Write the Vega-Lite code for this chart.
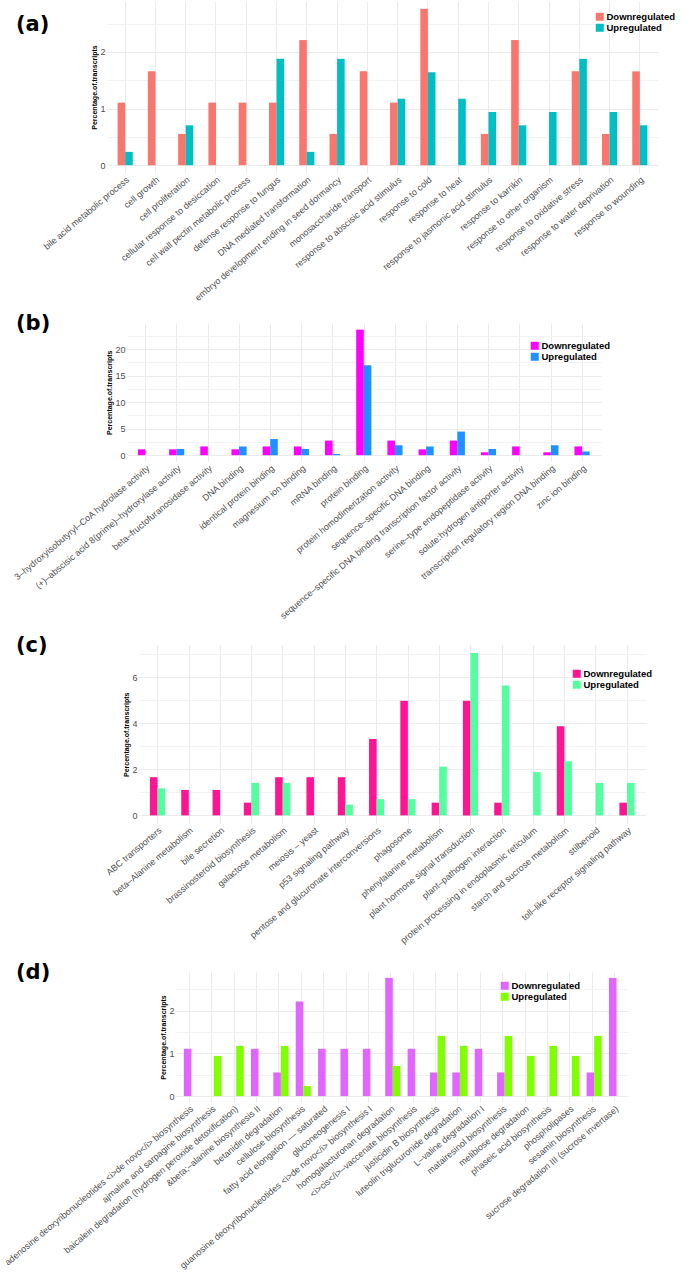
{
  "$schema": "https://vega.github.io/schema/vega-lite/v6.json",
  "padding": {"left": 0, "top": 1, "right": 0, "bottom": 0},
  "background": "white",
  "config": {
    "view": {"stroke": null},
    "axis": {
      "domain": false, "ticks": false,
      "labelFont": "Liberation Sans", "labelColor": "#4D4D4D", "labelFontSize": 9,
      "gridColor": "#EBEBEB", "gridWidth": 1
    },
    "axisX": {
      "labelAngle": -40, "labelAlign": "right", "labelBaseline": "top",
      "labelPadding": 2, "labelOverlap": false, "labelLimit": 500,
      "bandPosition": 0.5, "title": null, "grid": true
    },
    "axisY": {
      "labelPadding": 2, "titleFont": "Liberation Sans", "titleFontSize": 7,
      "titleFontWeight": "bold", "titleColor": "black", "titlePadding": 2, "format": "~g"
    },
    "legend": {
      "symbolType": "square", "symbolSize": 64, "symbolStrokeWidth": 0,
      "labelFont": "Liberation Sans", "labelFontSize": 9.5, "labelFontWeight": "bold",
      "labelColor": "black", "rowPadding": 0, "labelOffset": 2, "padding": 0
    },
    "title": {
      "font": "DejaVu Sans", "fontSize": 21, "fontWeight": "bold", "color": "black",
      "anchor": "start", "frame": "group", "offset": 0
    }
  },
  "datasets": {
    "a": [
      {"term": "bile acid metabolic process", "group": "Downregulated", "pct": 1.105},
      {"term": "bile acid metabolic process", "group": "Upregulated", "pct": 0.235},
      {"term": "cell growth", "group": "Downregulated", "pct": 1.657},
      {"term": "cell proliferation", "group": "Downregulated", "pct": 0.552},
      {"term": "cell proliferation", "group": "Upregulated", "pct": 0.704},
      {"term": "cellular response to desiccation", "group": "Downregulated", "pct": 1.105},
      {"term": "cell wall pectin metabolic process", "group": "Downregulated", "pct": 1.105},
      {"term": "defense response to fungus", "group": "Downregulated", "pct": 1.105},
      {"term": "defense response to fungus", "group": "Upregulated", "pct": 1.878},
      {"term": "DNA mediated transformation", "group": "Downregulated", "pct": 2.21},
      {"term": "DNA mediated transformation", "group": "Upregulated", "pct": 0.235},
      {"term": "embryo development ending in seed dormancy", "group": "Downregulated", "pct": 0.552},
      {"term": "embryo development ending in seed dormancy", "group": "Upregulated", "pct": 1.878},
      {"term": "monosaccharide transport", "group": "Downregulated", "pct": 1.657},
      {"term": "response to abscisic acid stimulus", "group": "Downregulated", "pct": 1.105},
      {"term": "response to abscisic acid stimulus", "group": "Upregulated", "pct": 1.174},
      {"term": "response to cold", "group": "Downregulated", "pct": 2.762},
      {"term": "response to cold", "group": "Upregulated", "pct": 1.643},
      {"term": "response to heat", "group": "Upregulated", "pct": 1.174},
      {"term": "response to jasmonic acid stimulus", "group": "Downregulated", "pct": 0.552},
      {"term": "response to jasmonic acid stimulus", "group": "Upregulated", "pct": 0.939},
      {"term": "response to karrikin", "group": "Downregulated", "pct": 2.21},
      {"term": "response to karrikin", "group": "Upregulated", "pct": 0.704},
      {"term": "response to other organism", "group": "Upregulated", "pct": 0.939},
      {"term": "response to oxidative stress", "group": "Downregulated", "pct": 1.657},
      {"term": "response to oxidative stress", "group": "Upregulated", "pct": 1.878},
      {"term": "response to water deprivation", "group": "Downregulated", "pct": 0.552},
      {"term": "response to water deprivation", "group": "Upregulated", "pct": 0.939},
      {"term": "response to wounding", "group": "Downregulated", "pct": 1.657},
      {"term": "response to wounding", "group": "Upregulated", "pct": 0.704}
    ],
    "b": [
      {"term": "3–hydroxyisobutyryl–CoA hydrolase activity", "group": "Downregulated", "pct": 1.105},
      {"term": "(+)–abscisic acid 8(prime)–hydroxylase activity", "group": "Downregulated", "pct": 1.105},
      {"term": "(+)–abscisic acid 8(prime)–hydroxylase activity", "group": "Upregulated", "pct": 1.174},
      {"term": "beta–fructofuranosidase activity", "group": "Downregulated", "pct": 1.657},
      {"term": "DNA binding", "group": "Downregulated", "pct": 1.105},
      {"term": "DNA binding", "group": "Upregulated", "pct": 1.643},
      {"term": "identical protein binding", "group": "Downregulated", "pct": 1.657},
      {"term": "identical protein binding", "group": "Upregulated", "pct": 3.052},
      {"term": "magnesium ion binding", "group": "Downregulated", "pct": 1.657},
      {"term": "magnesium ion binding", "group": "Upregulated", "pct": 1.174},
      {"term": "mRNA binding", "group": "Downregulated", "pct": 2.762},
      {"term": "mRNA binding", "group": "Upregulated", "pct": 0.235},
      {"term": "protein binding", "group": "Downregulated", "pct": 23.7},
      {"term": "protein binding", "group": "Upregulated", "pct": 17.0},
      {"term": "protein homodimerization activity", "group": "Downregulated", "pct": 2.762},
      {"term": "protein homodimerization activity", "group": "Upregulated", "pct": 1.878},
      {"term": "sequence–specific DNA binding", "group": "Downregulated", "pct": 1.105},
      {"term": "sequence–specific DNA binding", "group": "Upregulated", "pct": 1.643},
      {"term": "sequence–specific DNA binding transcription factor activity", "group": "Downregulated", "pct": 2.762},
      {"term": "sequence–specific DNA binding transcription factor activity", "group": "Upregulated", "pct": 4.46},
      {"term": "serine–type endopeptidase activity", "group": "Downregulated", "pct": 0.552},
      {"term": "serine–type endopeptidase activity", "group": "Upregulated", "pct": 1.174},
      {"term": "solute:hydrogen antiporter activity", "group": "Downregulated", "pct": 1.657},
      {"term": "transcription regulatory region DNA binding", "group": "Downregulated", "pct": 0.552},
      {"term": "transcription regulatory region DNA binding", "group": "Upregulated", "pct": 1.878},
      {"term": "zinc ion binding", "group": "Downregulated", "pct": 1.657},
      {"term": "zinc ion binding", "group": "Upregulated", "pct": 0.704}
    ],
    "c": [
      {"term": "ABC transporters", "group": "Downregulated", "pct": 1.657},
      {"term": "ABC transporters", "group": "Upregulated", "pct": 1.174},
      {"term": "beta–Alanine metabolism", "group": "Downregulated", "pct": 1.105},
      {"term": "bile secretion", "group": "Downregulated", "pct": 1.105},
      {"term": "brassinosteroid biosynthesis", "group": "Downregulated", "pct": 0.552},
      {"term": "brassinosteroid biosynthesis", "group": "Upregulated", "pct": 1.408},
      {"term": "galactose metabolism", "group": "Downregulated", "pct": 1.657},
      {"term": "galactose metabolism", "group": "Upregulated", "pct": 1.408},
      {"term": "meiosis – yeast", "group": "Downregulated", "pct": 1.657},
      {"term": "p53 signaling pathway", "group": "Downregulated", "pct": 1.657},
      {"term": "p53 signaling pathway", "group": "Upregulated", "pct": 0.469},
      {"term": "pentose and glucuronate interconversions", "group": "Downregulated", "pct": 3.315},
      {"term": "pentose and glucuronate interconversions", "group": "Upregulated", "pct": 0.704},
      {"term": "phagosome", "group": "Downregulated", "pct": 4.972},
      {"term": "phagosome", "group": "Upregulated", "pct": 0.704},
      {"term": "phenylalanine metabolism", "group": "Downregulated", "pct": 0.552},
      {"term": "phenylalanine metabolism", "group": "Upregulated", "pct": 2.113},
      {"term": "plant hormone signal transduction", "group": "Downregulated", "pct": 4.972},
      {"term": "plant hormone signal transduction", "group": "Upregulated", "pct": 7.042},
      {"term": "plant–pathogen interaction", "group": "Downregulated", "pct": 0.552},
      {"term": "plant–pathogen interaction", "group": "Upregulated", "pct": 5.634},
      {"term": "protein processing in endoplasmic reticulum", "group": "Upregulated", "pct": 1.878},
      {"term": "starch and sucrose metabolism", "group": "Downregulated", "pct": 3.867},
      {"term": "starch and sucrose metabolism", "group": "Upregulated", "pct": 2.347},
      {"term": "stilbenoid", "group": "Upregulated", "pct": 1.408},
      {"term": "toll–like receptor signaling pathway", "group": "Downregulated", "pct": 0.552},
      {"term": "toll–like receptor signaling pathway", "group": "Upregulated", "pct": 1.408}
    ],
    "d": [
      {"term": "adenosine deoxyribonucleotides <i>de novo</i> biosynthesis", "group": "Downregulated", "pct": 1.105},
      {"term": "ajmaline and sarpagine biosynthesis", "group": "Upregulated", "pct": 0.939},
      {"term": "baicalein degradation (hydrogen peroxide detoxification)", "group": "Upregulated", "pct": 1.174},
      {"term": "&beta;–alanine biosynthesis II", "group": "Downregulated", "pct": 1.105},
      {"term": "betanidin degradation", "group": "Downregulated", "pct": 0.552},
      {"term": "betanidin degradation", "group": "Upregulated", "pct": 1.174},
      {"term": "cellulose biosynthesis", "group": "Downregulated", "pct": 2.21},
      {"term": "cellulose biosynthesis", "group": "Upregulated", "pct": 0.235},
      {"term": "fatty acid elongation –– saturated", "group": "Downregulated", "pct": 1.105},
      {"term": "gluconeogenesis I", "group": "Downregulated", "pct": 1.105},
      {"term": "guanosine deoxyribonucleotides <i>de novo</i> biosynthesis I", "group": "Downregulated", "pct": 1.105},
      {"term": "homogalacturonan degradation", "group": "Downregulated", "pct": 2.762},
      {"term": "homogalacturonan degradation", "group": "Upregulated", "pct": 0.704},
      {"term": "<i>cis</i>–vaccenate biosynthesis", "group": "Downregulated", "pct": 1.105},
      {"term": "justicidin B biosynthesis", "group": "Downregulated", "pct": 0.552},
      {"term": "justicidin B biosynthesis", "group": "Upregulated", "pct": 1.408},
      {"term": "luteolin triglucuronide degradation", "group": "Downregulated", "pct": 0.552},
      {"term": "luteolin triglucuronide degradation", "group": "Upregulated", "pct": 1.174},
      {"term": "L–valine degradation I", "group": "Downregulated", "pct": 1.105},
      {"term": "matairesinol biosynthesis", "group": "Downregulated", "pct": 0.552},
      {"term": "matairesinol biosynthesis", "group": "Upregulated", "pct": 1.408},
      {"term": "melibiose degradation", "group": "Upregulated", "pct": 0.939},
      {"term": "phaseic acid biosynthesis", "group": "Upregulated", "pct": 1.174},
      {"term": "phospholipases", "group": "Upregulated", "pct": 0.939},
      {"term": "sesamin biosynthesis", "group": "Downregulated", "pct": 0.552},
      {"term": "sesamin biosynthesis", "group": "Upregulated", "pct": 1.408},
      {"term": "sucrose degradation III (sucrose invertase)", "group": "Downregulated", "pct": 2.762}
    ]
  },
  "spacing": 14,
  "resolve": {"scale": {"x": "independent", "y": "independent", "color": "independent"}, "legend": {"color": "independent"}},
  "vconcat": [
    {
      "spacing": 10,
      "resolve": {"scale": {"x": "independent", "y": "independent", "color": "independent"}, "legend": {"color": "independent"}},
      "vconcat": [
        {
          "spacing": 0, "bounds": "flush",
          "resolve": {"scale": {"x": "independent", "y": "independent", "color": "independent"}, "legend": {"color": "independent"}},
          "hconcat": [
            {"width": 107, "height": 20, "data": {"values": []}, "mark": "point", "encoding": {},
             "title": {"text": "(a)", "dx": 16, "dy": 38}},
            {
              "width": 551, "height": 172,
              "data": {"name": "a"},
              "mark": {"type": "bar"},
              "encoding": {
                "x": {"field": "term", "type": "nominal", "sort": null, "scale": {"paddingInner": 0.5, "paddingOuter": 0.35}},
                "xOffset": {"field": "group", "type": "nominal", "sort": ["Downregulated", "Upregulated"]},
                "y": {"field": "pct", "type": "quantitative", "scale": {"domain": [-0.138, 2.9], "nice": false},
                      "axis": {"title": "Percentage.of.transcripts", "values": [0, 0.5, 1, 1.5, 2, 2.5],
                               "labelExpr": "datum.value % 1 === 0 ? datum.label : ''",
                               "gridColor": {"condition": {"test": "datum.value % 1 !== 0", "value": "#F3F3F3"}, "value": "#EBEBEB"}}},
                "color": {"field": "group", "type": "nominal",
                          "scale": {"domain": ["Downregulated", "Upregulated"], "range": ["#F8766D", "#00BFC4"]},
                          "legend": {"title": null, "orient": "none", "legendX": 488, "legendY": 11}}
              }
            }
          ]
        },
        {
          "spacing": 0, "bounds": "flush",
          "resolve": {"scale": {"x": "independent", "y": "independent", "color": "independent"}, "legend": {"color": "independent"}},
          "hconcat": [
            {"width": 127, "height": 20, "data": {"values": []}, "mark": "point", "encoding": {},
             "title": {"text": "(b)", "dx": 16, "dy": 15}},
            {
              "width": 474, "height": 138.5,
              "data": {"name": "b"},
              "mark": {"type": "bar"},
              "encoding": {
                "x": {"field": "term", "type": "nominal", "sort": null, "scale": {"paddingInner": 0.5, "paddingOuter": 0.35}},
                "xOffset": {"field": "group", "type": "nominal", "sort": ["Downregulated", "Upregulated"]},
                "y": {"field": "pct", "type": "quantitative", "scale": {"domain": [-1.188, 24.95], "nice": false},
                      "axis": {"title": "Percentage.of.transcripts", "values": [0, 2.5, 5, 7.5, 10, 12.5, 15, 17.5, 20, 22.5],
                               "labelExpr": "datum.value % 5 === 0 ? datum.label : ''",
                               "gridColor": {"condition": {"test": "datum.value % 5 !== 0", "value": "#F3F3F3"}, "value": "#EBEBEB"}}},
                "color": {"field": "group", "type": "nominal",
                          "scale": {"domain": ["Downregulated", "Upregulated"], "range": ["#FF00FF", "#1E90FF"]},
                          "legend": {"title": null, "orient": "none", "legendX": 403, "legendY": 18}}
              }
            }
          ]
        }
      ]
    },
    {
      "spacing": 17,
      "resolve": {"scale": {"x": "independent", "y": "independent", "color": "independent"}, "legend": {"color": "independent"}},
      "vconcat": [
        {
          "spacing": 0, "bounds": "flush",
          "resolve": {"scale": {"x": "independent", "y": "independent", "color": "independent"}, "legend": {"color": "independent"}},
          "hconcat": [
            {"width": 139, "height": 20, "data": {"values": []}, "mark": "point", "encoding": {},
             "title": {"text": "(c)", "dx": 16, "dy": 15}},
            {
              "width": 507, "height": 178.5,
              "data": {"name": "c"},
              "mark": {"type": "bar"},
              "encoding": {
                "x": {"field": "term", "type": "nominal", "sort": null, "scale": {"paddingInner": 0.5, "paddingOuter": 0.35}},
                "xOffset": {"field": "group", "type": "nominal", "sort": ["Downregulated", "Upregulated"]},
                "y": {"field": "pct", "type": "quantitative", "scale": {"domain": [-0.352, 7.394], "nice": false},
                      "axis": {"title": "Percentage.of.transcripts", "values": [0, 1, 2, 3, 4, 5, 6, 7],
                               "labelExpr": "datum.value % 2 === 0 ? datum.label : ''",
                               "gridColor": {"condition": {"test": "datum.value % 2 !== 0", "value": "#F3F3F3"}, "value": "#EBEBEB"}}},
                "color": {"field": "group", "type": "nominal",
                          "scale": {"domain": ["Downregulated", "Upregulated"], "range": ["#FF1493", "#54FF9F"]},
                          "legend": {"title": null, "orient": "none", "legendX": 433, "legendY": 24}}
              }
            }
          ]
        },
        {
          "spacing": 0, "bounds": "flush",
          "resolve": {"scale": {"x": "independent", "y": "independent", "color": "independent"}, "legend": {"color": "independent"}},
          "hconcat": [
            {"width": 176, "height": 20, "data": {"values": []}, "mark": "point", "encoding": {},
             "title": {"text": "(d)", "dx": 16, "dy": 15}},
            {
              "width": 452, "height": 130,
              "data": {"name": "d"},
              "mark": {"type": "bar"},
              "encoding": {
                "x": {"field": "term", "type": "nominal", "sort": null, "scale": {"paddingInner": 0.5, "paddingOuter": 0.35}},
                "xOffset": {"field": "group", "type": "nominal", "sort": ["Downregulated", "Upregulated"]},
                "y": {"field": "pct", "type": "quantitative", "scale": {"domain": [-0.138, 2.9], "nice": false},
                      "axis": {"title": "Percentage.of.transcripts", "values": [0, 0.5, 1, 1.5, 2, 2.5],
                               "labelExpr": "datum.value % 1 === 0 ? datum.label : ''",
                               "gridColor": {"condition": {"test": "datum.value % 1 !== 0", "value": "#F3F3F3"}, "value": "#EBEBEB"}}},
                "color": {"field": "group", "type": "nominal",
                          "scale": {"domain": ["Downregulated", "Upregulated"], "range": ["#E066FF", "#7FFF00"]},
                          "legend": {"title": null, "orient": "none", "legendX": 324, "legendY": 9}}
              }
            }
          ]
        }
      ]
    }
  ]
}
